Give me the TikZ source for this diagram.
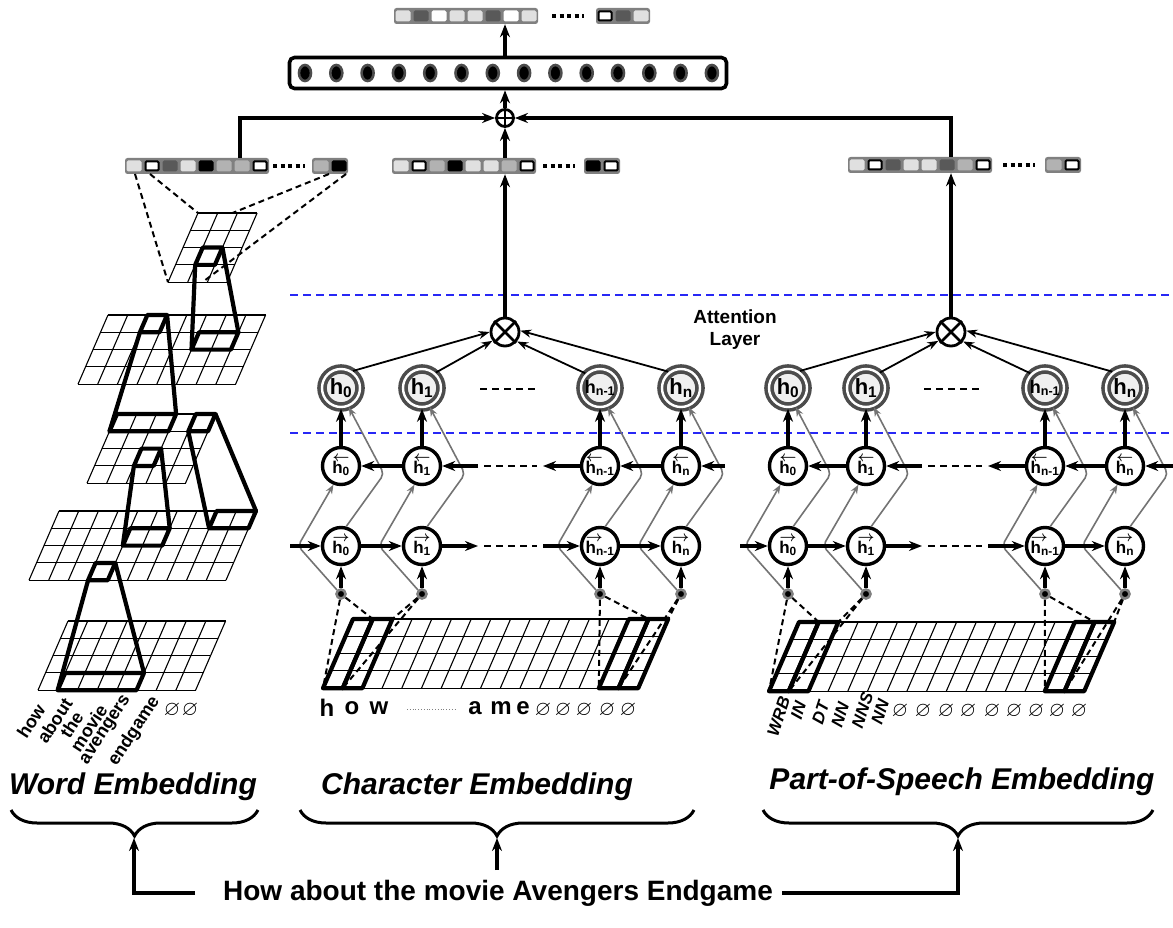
\documentclass[tikz,border=0pt]{standalone}
\definecolor{vecGray}{gray}{0.5}
\definecolor{cellLight}{gray}{0.88}
\definecolor{cellMid}{gray}{0.70}
\definecolor{cellDark}{gray}{0.35}
\definecolor{ringGray}{gray}{0.3}
\definecolor{skipGray}{gray}{0.45}
\definecolor{sepBlue}{RGB}{40,40,245}
\usepackage{amsmath,amssymb}
\usepackage{graphicx}
\usepackage{fontspec}
\setmainfont{Liberation Sans}
\usepackage{tikz}
\usetikzlibrary{arrows.meta,positioning,calc,decorations.pathreplacing}

\newcommand{\hatt}[1]{h\textsubscript{#1}}
\newcommand{\hbk}[1]{\rlap{\kern0.02em\raisebox{0.66em}{\scalebox{0.85}{$\boldsymbol{\leftarrow}$}}}h\textsubscript{#1}}
\newcommand{\hfw}[1]{\rlap{\kern0.02em\raisebox{0.66em}{\scalebox{0.85}{$\boldsymbol{\rightarrow}$}}}h\textsubscript{#1}}
\newcommand{\cellrow}[3]{\foreach \f/\d [count=\k from 0] in {#3}
  \node[cellbox, fill=\f, draw=\d] (v#1-\k) at ({#1+9+18*\k},#2) {};}
\newcommand{\planelines}[1]{\foreach \i in {0,...,#1} \draw[gridln] (\i,0) -- (\i,4);
  \foreach \j in {0,...,4} \draw[gridln] (0,\j) -- (#1,\j);}
\newcommand{\filtbox}[4]{\draw[filt] (#1,#2) -- (#3,#2) -- (#3,#4) -- (#1,#4) -- cycle;}

\begin{document}
\begin{tikzpicture}[x=1pt, y=-1pt,
    cellbox/.style={rectangle, minimum width=13pt, minimum height=9pt, inner sep=0pt, line width=2pt, rounded corners=1pt},
    vecbg/.style={rectangle, fill=vecGray, rounded corners=2.5pt, minimum height=16pt, inner sep=0pt},
    vdots/.style={line width=4pt, dash pattern=on 4pt off 3.5pt},
    arr/.style={-{Stealth[length=13pt,width=10pt]}, line width=3.2pt},
    thinarr/.style={-{Stealth[length=11pt,width=8pt]}, line width=1.8pt},
    skiparr/.style={-{Stealth[length=9pt,width=7pt]}, draw=skipGray, line width=1.6pt, rounded corners=5pt},
    attn/.style={circle, draw=ringGray, line width=3.6pt, double=white, double distance=2.4pt, fill=gray!12, minimum size=38pt, inner sep=0pt},
    lstm/.style={circle, draw, line width=3.4pt, fill=white, minimum size=37pt, inner sep=0pt, font=\fontsize{17}{17}\selectfont\bfseries},
    prod/.style={circle, draw, line width=2.8pt, fill=white, minimum size=28pt},
    sumop/.style={circle, draw, line width=2.8pt, fill=white, minimum size=17pt},
    inpt/.style={circle, fill=black, draw=gray, line width=2.6pt, minimum size=9pt, inner sep=0pt},
    densebox/.style={draw, line width=3.6pt, rounded corners=5pt, minimum width=437pt, minimum height=31pt},
    gridln/.style={line width=1.1pt},
    filt/.style={line width=4.2pt, line join=round},
    projdash/.style={line width=2pt, dash pattern=on 6pt off 4pt},
    sepline/.style={draw=sepBlue, line width=1.6pt, dash pattern=on 8pt off 5pt},
    plane/.style 2 args={shift={(#1,#2)}, x={(19.7pt,0pt)}, y={(-7.5pt,-17.3pt)}},
    brc/.style={decorate, decoration={brace, mirror, amplitude=26pt}, line width=3pt},
    embl/.style={font=\fontsize{30}{30}\selectfont\bfseries\itshape},
    wordlab/.style={font=\fontsize{18}{18}\selectfont\bfseries, inner sep=0pt, anchor=east},
    poslab/.style={font=\fontsize{17}{17}\selectfont\bfseries\itshape, inner sep=0pt, anchor=east, rotate=72},
    chr/.style={font=\fontsize{24}{24}\selectfont\bfseries, inner sep=0pt},
    nul/.style={font=\fontsize{21}{21}\selectfont, inner sep=0pt}]
\useasboundingbox (0,0) rectangle (1173,928);

% Layer separators
\draw[sepline] (290,295) -- (1173,295);
\draw[sepline] (290,433) -- (1173,433);

% Word CNN planes
\begin{scope}[plane={198}{213}]
  \planelines{3}
  \filtbox{1}{2}{2}{3}
  \coordinate (a1) at (1,3); \coordinate (a2) at (2,2);
  \coordinate (a3) at (0,4); \coordinate (a4) at (0,0);
  \coordinate (a5) at (1.75,0); \coordinate (a6) at (1.75,4);
\end{scope}
\begin{scope}[plane={108}{315}]
  \planelines{8}
  \filtbox{2}{0}{3}{1}
  \filtbox{5}{1}{7}{2}
  \coordinate (b1) at (2,1); \coordinate (b2) at (3,0);
  \coordinate (b3) at (5,2); \coordinate (b4) at (7,1);
\end{scope}
\begin{scope}[plane={117}{414}]
  \planelines{5}
  \filtbox{2}{2}{3}{3}
  \filtbox{4}{0}{5}{1}
  \filtbox{0}{0}{3}{1}
  \coordinate (c1) at (2,3); \coordinate (c2) at (3,2);
  \coordinate (c3) at (4,1); \coordinate (c4) at (5,0);
  \coordinate (c5) at (0,1); \coordinate (c6) at (3,0);
\end{scope}
\begin{scope}[plane={59}{511}]
  \planelines{10}
  \filtbox{3}{3}{4}{4}
  \filtbox{4}{1}{6}{2}
  \filtbox{8}{0}{10}{1}
  \coordinate (d1) at (3,4); \coordinate (d2) at (4,3);
  \coordinate (d3) at (4,2); \coordinate (d4) at (6,1);
  \coordinate (d5) at (8,1); \coordinate (d6) at (10,0);
\end{scope}
\begin{scope}[plane={68}{621}]
  \planelines{8}
  \filtbox{1}{3}{5}{4}
  \coordinate (e1) at (1,4); \coordinate (e2) at (5,3);
\end{scope}
% Filter walls
\draw[filt] (e1) -- (d1) (e2) -- (d2) (d3) -- (c1) (d4) -- (c2) (d5) -- (c3)
  (d6) -- (c4) (c5) -- (b1) (c6) -- (b2) (b3) -- (a1) (b4) -- (a2);

% Character and POS input planes
\begin{scope}[plane={353}{619}]
  \planelines{16}
  \foreach \c in {0,1,14,15} \filtbox{\c}{0}{\c+1}{4}
  \coordinate (cg0) at (0,4); \coordinate (cg1) at (1,0);
  \coordinate (cg2) at (1,4); \coordinate (cg3) at (2,0);
  \coordinate (cg4) at (14,4); \coordinate (cg5) at (15,0);
  \coordinate (cg6) at (15,4); \coordinate (cg7) at (16,0);
\end{scope}
\begin{scope}[plane={799}{622}]
  \planelines{16}
  \foreach \c in {0,1,14,15} \filtbox{\c}{0}{\c+1}{4}
  \coordinate (pg0) at (0,4); \coordinate (pg1) at (1,0);
  \coordinate (pg2) at (1,4); \coordinate (pg3) at (2,0);
  \coordinate (pg4) at (14,4); \coordinate (pg5) at (15,0);
  \coordinate (pg6) at (15,4); \coordinate (pg7) at (16,0);
\end{scope}

% Embedding vectors
\node[vecbg, minimum width=144pt] (ovec) at (466,16) {};
\cellrow{394}{16}{cellLight/cellLight, cellDark/cellDark, white/white, cellLight/cellLight, cellLight/cellLight, cellDark/cellDark, white/white, cellLight/cellLight}
\draw[vdots] (552,16) -- (584,16);
\node[vecbg, minimum width=54pt] (ovecend) at (623,16) {};
\cellrow{596}{16}{white/black, cellDark/cellDark, cellLight/cellLight}

\node[vecbg, minimum width=144pt] (wvec) at (197,166) {};
\cellrow{125}{166}{cellLight/cellLight, white/black, cellDark/cellDark, cellLight/cellLight, black/black, cellMid/cellMid, cellMid/cellMid, white/black}
\draw[vdots] (273,166) -- (305,166);
\node[vecbg, minimum width=36pt] (wvecend) at (330,166) {};
\cellrow{312}{166}{cellMid/cellMid, black/black}

\node[vecbg, minimum width=144pt] (cvec) at (464,166) {};
\cellrow{392}{166}{cellLight/cellLight, white/black, cellMid/cellMid, black/black, cellLight/cellLight, cellLight/cellLight, cellMid/cellMid, white/black}
\draw[vdots] (543,166) -- (575,166);
\node[vecbg, minimum width=36pt] (cvecend) at (602,166) {};
\cellrow{584}{166}{black/black, white/black}

\node[vecbg, minimum width=144pt] (pvec) at (920,165) {};
\cellrow{848}{165}{cellLight/cellLight, white/black, cellDark/cellDark, cellLight/cellLight, cellLight/cellLight, cellDark/cellDark, cellMid/cellMid, white/black}
\draw[vdots] (1003,165) -- (1035,165);
\node[vecbg, minimum width=36pt] (pvecend) at (1063,165) {};
\cellrow{1045}{165}{cellMid/cellMid, white/black}

% Dense layer and concatenation
\node[densebox] (dense) at (508,73) {};
\foreach \i in {0,...,13}
  \draw[fill=black, draw=gray!60!black, line width=2.6pt] ({305+31.3*\i},73) ellipse [x radius=6pt, y radius=8pt];
\node[sumop] (sum) at (505,118) {};
\draw[line width=2.6pt] (sum.north) -- (sum.south) (sum.west) -- (sum.east);
\draw[arr] (sum.north) -- (dense.south -| sum.north);
\draw[arr] (dense.north -| sum.north) -- (ovec.south -| sum.north);

% BiLSTM + attention, character (c) and POS (p)
\foreach \s/\xa/\xb/\xc/\xd/\xm/\xl/\xr in {c/341/422/600/681/505/290/725, p/788/866/1045/1125/951/740/1173}{
  \node[prod] (\s m) at (\xm,332) {};
  \draw[line width=2.6pt] (\s m.45) -- (\s m.225) (\s m.135) -- (\s m.315);
  \foreach \x/\n/\lab/\fa in {\xa/0/0/22, \xb/1/1/22, \xc/2/n-1/18, \xd/3/n/22}{
    \node[attn, font=\fontsize{\fa}{\fa}\selectfont\bfseries] (\s h\n) at (\x,388) {\hatt{\lab}};
    \node[lstm] (\s b\n) at (\x,466) {\hbk{\lab}};
    \node[lstm] (\s f\n) at (\x,546) {\hfw{\lab}};
    \node[inpt] (\s d\n) at (\x,594) {};
    \draw[arr] (\s d\n) -- (\s f\n);
    \draw[arr] (\s b\n) -- (\s h\n);
    \draw[skiparr] (\s d\n.135) -- (\x-43,546) -- (\s b\n.-112);
    \draw[skiparr] (\s f\n.75) -- (\x+43,474) -- (\s h\n.-68);
  }
  % recurrent links
  \coordinate (\s fl) at (\xl,546);
  \coordinate (\s br) at (\xr,466);
  \coordinate (\s fo) at ({\xb+56},546);
  \coordinate (\s fi) at ({\xc-57},546);
  \coordinate (\s bi) at ({\xb+56},466);
  \coordinate (\s bo) at ({\xc-57},466);
  \draw[arr] (\s fl) -- (\s f0);
  \draw[arr] (\s f0) -- (\s f1);
  \draw[arr] (\s f1) -- (\s fo);
  \draw[arr] (\s fi) -- (\s f2);
  \draw[arr] (\s f2) -- (\s f3);
  \draw[arr] (\s br) -- (\s b3);
  \draw[arr] (\s b3) -- (\s b2);
  \draw[arr] (\s b2) -- (\s bo);
  \draw[arr] (\s bi) -- (\s b1);
  \draw[arr] (\s b1) -- (\s b0);
  \draw[line width=2pt, dash pattern=on 7pt off 5pt] ({\xb+62},546) -- ({\xc-63},546)
    ({\xb+62},466) -- ({\xc-63},466) ({\xb+58},389) -- ({\xc-65},389);
  % attention weights
  \draw[thinarr] (\s h0.55) -- (\s m.180);
  \draw[thinarr] (\s h1.48) -- (\s m.215);
  \draw[thinarr] (\s h2.135) -- (\s m.-38);
  \draw[thinarr] (\s h3.128) -- (\s m.5);
  \draw[arr] (\s m.north) -- (\s m.north |- \s vec.south);
  % windows on the input plane
  \draw[projdash] (\s d0) -- (\s g0) (\s d0) -- (\s g1) (\s d1) -- (\s g2) (\s d1) -- (\s g3)
    (\s d2) -- (\s g4) (\s d2) -- (\s g5) (\s d3) -- (\s g6) (\s d3) -- (\s g7);
}

% Into the concatenation
\coordinate (wout) at (240,166);
\draw[arr] (wout |- wvec.north) |- (sum.west);
\draw[arr] (cm.north |- cvec.north) -- (sum.south);
\draw[arr] (pm.north |- pvec.north) |- (sum.east);

% Word plane to word vector
\coordinate (wp1) at (135,174); \coordinate (wp2) at (150,174);
\coordinate (wp3) at (329,174); \coordinate (wp4) at (346,174);
\draw[projdash] (wp1) -- (a3) (wp2) -- (a4) (wp3) -- (a5) (wp4) -- (a6);

\node[font=\fontsize{19}{22}\selectfont\bfseries, align=center] (attlab) at (735,330) {Attention\\Layer};

% Token labels
\foreach \t/\x/\y [count=\k] in {how/41/706, about/68/700, the/79/713, movie/103/706, avengers/128/697, endgame/156/698}
  \node[wordlab, rotate=57] (wl\k) at (\x,\y) {\t};
\node[nul] (wn1) at (172,710) {$\varnothing$};
\node[nul] (wn2) at (190,710) {$\varnothing$};
\foreach \t/\x [count=\k] in {h/327, o/352, w/379, a/475, m/501, e/523}
  \node[chr] (cl\k) at (\x,708) {\t};
\draw[gray, line width=0.8pt, dotted] (407,709) -- (457,709);
\foreach \x [count=\k] in {543,563,584,607,628}
  \node[nul] (cn\k) at (\x,710) {$\varnothing$};
\foreach \t/\x/\y [count=\k] in {WRB/785/697, IN/801/702, DT/824/702, NN/844/703, NNS/868/693, NN/884/700}
  \node[poslab] (pl\k) at (\x,\y) {\t};
\foreach \x [count=\k] in {900,923,946,968,992,1014,1036,1057,1079}
  \node[nul] (pn\k) at (\x,711) {$\varnothing$};

% Embedding braces
\node[embl] (wlab) at (133,787) {Word Embedding};
\node[embl] (clab) at (477,787) {Character Embedding};
\node[embl] (plab) at (962,782) {Part-of-Speech Embedding};
\draw[brc] (11,810) -- (258,810);
\draw[brc] (300,810) -- (694,810);
\draw[brc] (763,810) -- (1153,810);
\coordinate (wtip) at (134,838);
\coordinate (ctip) at (497,838);
\coordinate (ptip) at (958,838);

% Input sentence
\node[font=\fontsize{28}{28}\selectfont\bfseries] (sent) at (498,893) {How about the movie Avengers Endgame};
\coordinate (sl) at (195,893);
\coordinate (sr) at (782,893);
\coordinate (sm) at (497,870);
\draw[arr] (sl) -| (wtip);
\draw[arr] (sr) -| (ptip);
\draw[arr] (sm) -- (ctip);
\end{tikzpicture}
\end{document}
